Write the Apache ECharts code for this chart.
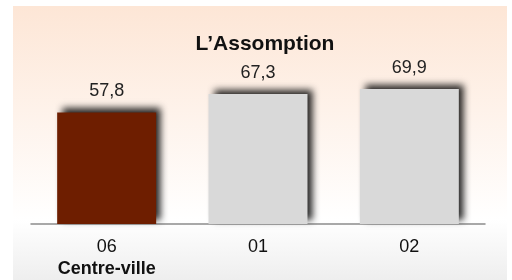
<!DOCTYPE html>
<html>
<head>
<meta charset="utf-8">
<style>
  html, body { margin: 0; padding: 0; background: #fff; }
  #main { width: 512px; height: 280px; }
</style>
<script src="https://cdn.jsdelivr.net/npm/echarts@6/dist/echarts.min.js"></script>
</head>
<body>
<div id="main"></div>
<script>
  // donnees
  var categories = ['06', '01', '02'];
  var subLabels = ['Centre-ville', '', ''];
  var values = [57.8, 67.3, 69.9];
  var barColors = ['#6E1E00', '#D9D9D9', '#D9D9D9'];

  var chart = echarts.init(document.getElementById('main'));

  var seriesData = values.map(function (v, i) {
    return { value: v, itemStyle: { color: barColors[i] } };
  });

  chart.setOption({
    animation: false,
    graphic: [{
      type: 'rect',
      z: -10,
      shape: { x: 13, y: 6, width: 494, height: 274 },
      style: {
        fill: new echarts.graphic.LinearGradient(0, 0, 0, 1, [
          { offset: 0, color: '#FDE6D6' },
          { offset: 0.78, color: '#FFFFFF' },
          { offset: 1, color: '#EEEEEE' }
        ])
      }
    }],
    title: {
      text: 'L\u2019Assomption',
      left: 260,
      top: 29,
      textAlign: 'center',
      textStyle: { fontFamily: 'Liberation Sans', fontSize: 21, fontWeight: 'bold', color: '#111' }
    },
    grid: { left: 31, right: 27, top: 31, bottom: 55 },
    xAxis: {
      type: 'category',
      data: categories,
      axisLine: { lineStyle: { color: '#8C8C8C', width: 1.5 } },
      axisTick: { length: 4, lineStyle: { color: '#8C8C8C', width: 1.5 } },
      axisLabel: {
        interval: 0,
        hideOverlap: false,
        margin: 12,
        fontFamily: 'Liberation Sans',
        fontSize: 18,
        color: '#111',
        lineHeight: 22,
        formatter: function (v, i) {
          return subLabels[i] ? v + '\n{b|' + subLabels[i] + '}' : v;
        },
        rich: {
          b: { fontFamily: 'Liberation Sans', fontSize: 18, fontWeight: 'bold', color: '#111', lineHeight: 22 }
        }
      }
    },
    yAxis: {
      type: 'value',
      min: 0,
      max: 100,
      show: false
    },
    series: [{
      type: 'bar',
      barWidth: 99,
      data: seriesData,
      itemStyle: {
        shadowColor: 'rgba(0,0,0,0.85)',
        shadowBlur: 7,
        shadowOffsetX: 5,
        shadowOffsetY: -4
      },
      label: {
        show: true,
        position: 'top',
        distance: 12,
        fontFamily: 'Liberation Sans',
        fontSize: 18,
        color: '#222',
        formatter: function (p) {
          return p.value.toFixed(1).replace('.', ',');
        }
      }
    }]
  });
</script>
</body>
</html>
